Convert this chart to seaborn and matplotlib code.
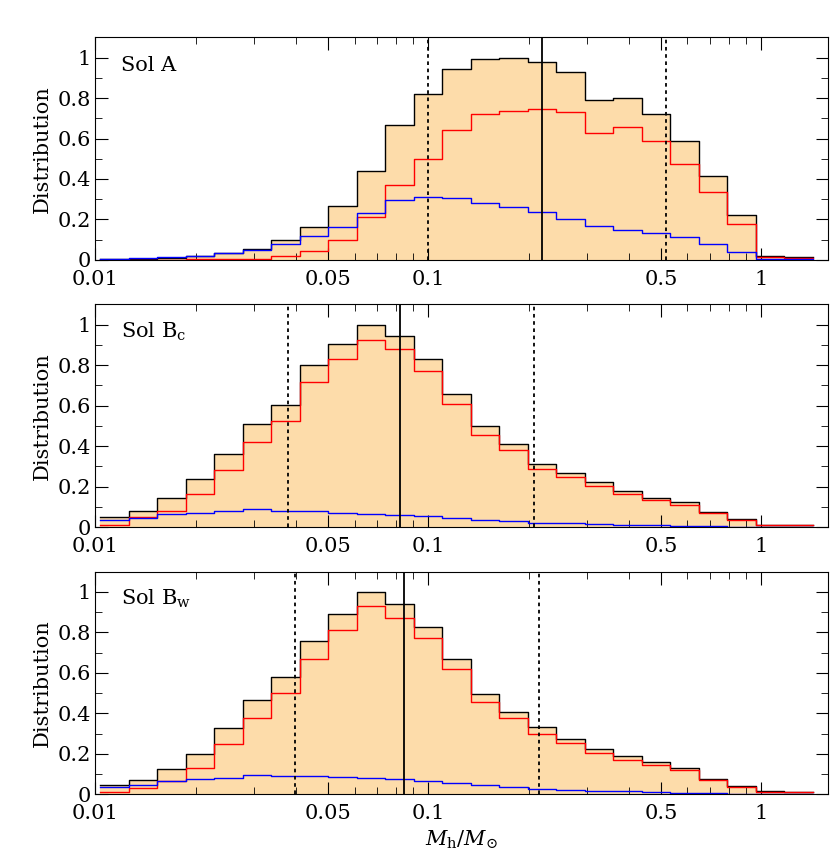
import numpy as np
import matplotlib
matplotlib.use("Agg")
import matplotlib.pyplot as plt
from matplotlib.ticker import FixedLocator, FixedFormatter, MultipleLocator, LogLocator, NullFormatter
import seaborn as sns

# log10 bin range of the histograms (25 bins)
LOG_RANGE = (-1.985, 0.155)
NBINS = 25

panel_labels = ["Sol A", r"Sol B$_{\rm c}$", r"Sol B$_{\rm w}$"]

total_A = [0.003, 0.007, 0.012, 0.02, 0.035, 0.055, 0.1, 0.165, 0.265, 0.44, 0.665, 0.82, 0.945,
           0.995, 1.0, 0.98, 0.93, 0.79, 0.8, 0.72, 0.59, 0.415, 0.22, 0.02, 0.015]
red_A = [0, 0, 0.002, 0.003, 0.005, 0.007, 0.02, 0.045, 0.1, 0.21, 0.37, 0.5, 0.64,
         0.72, 0.735, 0.745, 0.73, 0.625, 0.655, 0.59, 0.475, 0.335, 0.18, 0.015, 0.01]
blue_A = [0.003, 0.008, 0.015, 0.02, 0.032, 0.05, 0.08, 0.12, 0.165, 0.23, 0.295, 0.31, 0.305,
          0.28, 0.26, 0.235, 0.2, 0.17, 0.15, 0.135, 0.115, 0.08, 0.04, 0.005, 0.003]

total_Bc = [0.05, 0.08, 0.145, 0.24, 0.36, 0.51, 0.605, 0.8, 0.905, 1.0, 0.945, 0.83, 0.66,
            0.5, 0.41, 0.31, 0.265, 0.225, 0.18, 0.145, 0.125, 0.075, 0.04, 0.01, 0.008]
red_Bc = [0.01, 0.05, 0.08, 0.165, 0.28, 0.42, 0.525, 0.715, 0.83, 0.925, 0.88, 0.77, 0.61,
          0.455, 0.38, 0.285, 0.245, 0.205, 0.165, 0.135, 0.11, 0.07, 0.035, 0.01, 0.01]
blue_Bc = [0.035, 0.045, 0.065, 0.07, 0.08, 0.09, 0.08, 0.08, 0.07, 0.065, 0.06, 0.055, 0.045,
           0.035, 0.028, 0.022, 0.018, 0.015, 0.012, 0.01, 0.007, 0.004, 0.002, 0.001, 0.0]

total_Bw = [0.045, 0.07, 0.125, 0.2, 0.325, 0.465, 0.58, 0.755, 0.89, 1.0, 0.94, 0.825, 0.67,
            0.495, 0.405, 0.33, 0.275, 0.225, 0.19, 0.16, 0.13, 0.075, 0.04, 0.015, 0.012]
red_Bw = [0.01, 0.03, 0.065, 0.13, 0.25, 0.375, 0.5, 0.67, 0.81, 0.93, 0.87, 0.77, 0.62,
          0.455, 0.375, 0.3, 0.255, 0.205, 0.17, 0.145, 0.12, 0.07, 0.035, 0.012, 0.01]
blue_Bw = [0.035, 0.045, 0.065, 0.075, 0.08, 0.095, 0.09, 0.09, 0.085, 0.08, 0.075, 0.065, 0.055,
           0.045, 0.035, 0.028, 0.022, 0.018, 0.014, 0.01, 0.007, 0.004, 0.003, 0.002, 0.0]

# median and 1-sigma range
median = [0.219, 0.082, 0.0842]
lower = [0.1, 0.038, 0.0397]
upper = [0.517, 0.208, 0.215]

totals = [total_A, total_Bc, total_Bw]
reds = [red_A, red_Bc, red_Bw]
blues = [blue_A, blue_Bc, blue_Bw]

plt.rcParams["font.family"] = "DejaVu Serif"
plt.rcParams["mathtext.fontset"] = "dejavuserif"

fig, axes = plt.subplots(3, 1, figsize=(8.3, 8.68), dpi=100)
fig.subplots_adjust(left=0.115, right=0.997, top=0.957, bottom=0.085, hspace=0.2)

edges = np.linspace(LOG_RANGE[0], LOG_RANGE[1], NBINS + 1)
centers = 10 ** (0.5 * (edges[:-1] + edges[1:]))

for i, ax in enumerate(axes):
    common = dict(x=centers, bins=NBINS, binrange=LOG_RANGE, log_scale=True,
                  element="step", ax=ax, stat="count")
    sns.histplot(weights=totals[i], fill=True, color="#fddcaa", alpha=1, linewidth=0, **common)
    sns.histplot(weights=totals[i], fill=False, color="black", linewidth=1, **common)
    sns.histplot(weights=reds[i], fill=False, color="red", linewidth=1, **common)
    sns.histplot(weights=blues[i], fill=False, color="blue", linewidth=1, **common)

    ax.axvline(median[i], color="black", lw=1.3)
    ax.axvline(lower[i], color="black", lw=1.3, ls=(0, (2, 2)))
    ax.axvline(upper[i], color="black", lw=1.3, ls=(0, (2, 2)))

    ax.set_xscale("log")
    ax.set_xlim(0.01, 1.58)
    ax.set_ylim(0, 1.1)
    ax.xaxis.set_major_locator(FixedLocator([0.01, 0.05, 0.1, 0.5, 1]))
    ax.xaxis.set_major_formatter(FixedFormatter(["0.01", "0.05", "0.1", "0.5", "1"]))
    ax.xaxis.set_minor_locator(LogLocator(base=10, subs=np.arange(2, 10)))
    ax.xaxis.set_minor_formatter(NullFormatter())
    ax.yaxis.set_minor_locator(MultipleLocator(0.1))
    ax.set_yticks([0, 0.2, 0.4, 0.6, 0.8, 1])
    ax.set_yticklabels(["0", "0.2", "0.4", "0.6", "0.8", "1"])
    ax.tick_params(which="both", direction="in", top=True, right=True, labelsize=15)
    ax.tick_params(axis="x", pad=7)
    ax.tick_params(which="major", length=9)
    ax.tick_params(which="minor", length=5)
    ax.set_ylabel("Distribution", fontsize=15)
    ax.set_xlabel("")
    ax.text(0.035, 0.85, panel_labels[i], transform=ax.transAxes, fontsize=15)

axes[-1].set_xlabel(r"$M_{\rm h}/M_{\odot}$", fontsize=15)

fig.savefig("out.png")
